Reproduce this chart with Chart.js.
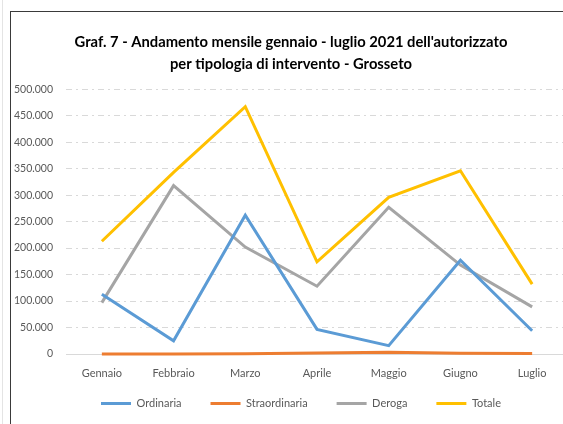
<!DOCTYPE html>
<html>
<head>
<meta charset="utf-8">
<script src="https://cdn.jsdelivr.net/npm/chart.js@4/dist/chart.umd.min.js"></script>
<style>
  html, body { margin: 0; padding: 0; background: #fff; overflow: hidden; width: 563px; height: 424px; }
  #wrap { position: absolute; left: 0; top: 0; width: 580px; height: 424px; }
  #frame { position: absolute; left: 10px; top: 11px; width: 600px; height: 500px; border-left: 1.5px solid #3a3a3a; border-top: 1.5px solid #3a3a3a; pointer-events: none; }
  #edge { position: absolute; left: 2px; top: 0; width: 1px; height: 424px; background: #e4e4e4; }
</style>
</head>
<body>
<div id="edge"></div>
<div id="wrap"><canvas id="c" width="580" height="424"></canvas></div>
<div id="frame"></div>
<script>
const categories = ["Gennaio", "Febbraio", "Marzo", "Aprile", "Maggio", "Giugno", "Luglio"];
const ordinaria = [113000, 25000, 262000, 46500, 15700, 177000, 44000];
const straordinaria = [0, 0, 500, 2000, 3500, 1500, 1000];
const deroga = [97000, 318000, 202000, 128000, 277000, 168000, 89000];
const totale = [213000, 343000, 467000, 174000, 296000, 346000, 132000];
const seriesNames = ["Ordinaria", "Straordinaria", "Deroga", "Totale"];
const titleLines = ["Graf. 7 - Andamento mensile gennaio - luglio 2021 dell'autorizzato", "per tipologia di intervento - Grosseto"];
const yMax = 500000;
const yStep = 50000;

const FONT = "Lato";
const colors = ["#5B9BD5", "#ED7D31", "#A5A5A5", "#FFC000"];
const values = [ordinaria, straordinaria, deroga, totale];

function fmtIt(v) {
  if (v === 0) return "0";
  const s = String(Math.round(v));
  return s.replace(/\B(?=(\d{3})+(?!\d))/g, ".");
}

const datasets = seriesNames.map((n, i) => ({
  label: n,
  data: values[i],
  borderColor: colors[i],
  backgroundColor: colors[i],
  borderWidth: 3,
  pointRadius: 0,
  tension: 0,
  fill: false,
  clip: 4
}));

const X_AXIS_H = 28;
const LEGEND_H = 42;
const LEGEND_TOP = 369;
const LEGEND_SHIFT = 17;
const TITLE_SHIFT = 7;

const layoutTweak = {
  id: 'layoutTweak',
  beforeLayout(chart) {
    const lg = chart.legend;
    if (lg && !lg._patched) {
      const orig = lg.fit;
      lg.fit = function () { orig.call(this); this.height = LEGEND_H; };
      lg._patched = true;
    }
  },
  afterLayout(chart) {
    const lg = chart.legend;
    if (lg) {
      lg.left += LEGEND_SHIFT; lg.right += LEGEND_SHIFT;
      lg.top = LEGEND_TOP; lg.bottom = LEGEND_TOP + LEGEND_H;
    }
    if (chart.titleBlock) { chart.titleBlock.left += TITLE_SHIFT; chart.titleBlock.right += TITLE_SHIFT; }
  }
};

new Chart(document.getElementById('c'), {
  type: 'line',
  data: { labels: categories, datasets: datasets },
  plugins: [layoutTweak],
  options: {
    responsive: false,
    animation: false,
    layout: { padding: { left: 0, right: 12, top: 0, bottom: 0 } },
    plugins: {
      title: {
        display: true,
        text: titleLines,
        color: '#000',
        font: { family: FONT, size: 14.75, weight: 'bold', lineHeight: 1.5 },
        padding: { top: 31, bottom: 14 }
      },
      legend: {
        position: 'bottom',
        labels: {
          color: '#595959',
          font: { family: FONT, size: 11 },
          boxWidth: 30,
          boxHeight: 3,
          padding: 29,
          generateLabels: (chart) => chart.data.datasets.map((d, i) => ({
            text: d.label, fillStyle: d.borderColor, strokeStyle: d.borderColor, lineWidth: 0, datasetIndex: i, hidden: false, fontColor: '#595959'
          }))
        }
      },
      tooltip: { enabled: false }
    },
    scales: {
      x: {
        offset: true,
        afterFit: (s) => { s.height = X_AXIS_H; },
        grid: { display: false, drawTicks: false },
        border: { display: false },
        ticks: { color: '#595959', font: { family: FONT, size: 11 }, padding: 13, maxRotation: 0 }
      },
      y: {
        min: 0, max: yMax,
        afterFit: (s) => { s.width = 66; },
        grid: {
          drawTicks: false,
          color: '#d9d9d9',
          lineWidth: 1
        },
        border: { display: false, dash: (ctx) => ctx.tick && ctx.tick.value === 0 ? [] : [6, 4, 2, 4] },
        ticks: {
          stepSize: yStep,
          color: '#595959',
          font: { family: FONT, size: 10.5 },
          padding: 13,
          callback: (v) => fmtIt(v)
        }
      }
    }
  }
});
</script>
</body>
</html>
